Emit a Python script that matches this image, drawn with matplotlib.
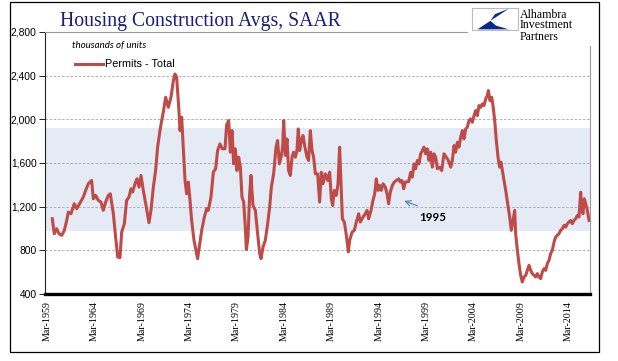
import numpy as np
import matplotlib
matplotlib.use("Agg")
import matplotlib.pyplot as plt
from matplotlib.patches import Rectangle, Polygon

# permits, thousands of units (SAAR); x in decimal years
years = [
    1959.77, 1959.98, 1960.23, 1960.48, 1960.76, 1961.04, 1961.29, 1961.46, 1961.74, 1962.09,
    1962.34, 1962.69, 1963.04, 1963.29, 1963.57, 1963.92, 1964.10, 1964.34, 1964.63, 1964.91,
    1965.15, 1965.40, 1965.68, 1965.89, 1966.21, 1966.45, 1966.67, 1966.91, 1967.09, 1967.37,
    1967.61, 1967.86, 1968.07, 1968.25, 1968.49, 1968.70, 1968.92, 1969.13, 1969.37, 1969.72,
    1969.97, 1970.18, 1970.43, 1970.67, 1970.88, 1971.13, 1971.31, 1971.48, 1971.73, 1972.01,
    1972.29, 1972.54, 1972.71, 1972.89, 1972.99, 1973.13, 1973.24, 1973.42, 1973.59, 1973.77,
    1973.94, 1974.12, 1974.30, 1974.47, 1974.72, 1974.93, 1975.10, 1975.28, 1975.53, 1975.81,
    1976.05, 1976.23, 1976.51, 1976.76, 1977.00, 1977.21, 1977.46, 1977.71, 1977.99, 1978.16,
    1978.38, 1978.55, 1978.73, 1978.90, 1979.08, 1979.25, 1979.43, 1979.61, 1979.78, 1979.96,
    1980.13, 1980.24, 1980.42, 1980.59, 1980.73, 1980.94, 1981.19, 1981.43, 1981.65, 1981.79,
    1982.00, 1982.24, 1982.49, 1982.70, 1982.88, 1983.12, 1983.37, 1983.54, 1983.72, 1983.90,
    1984.07, 1984.18, 1984.35, 1984.53, 1984.70, 1984.88, 1985.06, 1985.23, 1985.41, 1985.58,
    1985.72, 1985.87, 1986.04, 1986.22, 1986.39, 1986.64, 1986.81, 1986.99, 1987.17, 1987.34,
    1987.52, 1987.76, 1987.97, 1988.15, 1988.33, 1988.57, 1988.82, 1989.03, 1989.21, 1989.35,
    1989.52, 1989.73, 1989.91, 1990.08, 1990.23, 1990.37, 1990.58, 1990.79, 1991.00, 1991.14,
    1991.39, 1991.63, 1991.84, 1992.09, 1992.26, 1992.55, 1992.79, 1992.97, 1993.14, 1993.39,
    1993.60, 1993.78, 1993.95, 1994.13, 1994.30, 1994.48, 1994.66, 1994.90, 1995.08, 1995.25,
    1995.43, 1995.64, 1995.85, 1996.06, 1996.31, 1996.48, 1996.66, 1996.84, 1997.01, 1997.36,
    1997.58, 1997.75, 1997.93, 1998.10, 1998.28, 1998.45, 1998.63, 1998.81, 1998.98, 1999.16,
    1999.33, 1999.51, 1999.69, 1999.86, 2000.04, 2000.21, 2000.39, 2000.63, 2000.85, 2001.09,
    2001.34, 2001.55, 2001.80, 2001.97, 2002.15, 2002.32, 2002.50, 2002.67, 2002.85, 2003.03,
    2003.20, 2003.38, 2003.55, 2003.73, 2003.90, 2004.08, 2004.26, 2004.43, 2004.61, 2004.78,
    2004.96, 2005.14, 2005.31, 2005.49, 2005.66, 2005.77, 2005.94, 2006.12, 2006.26, 2006.44,
    2006.61, 2006.79, 2006.96, 2007.10, 2007.25, 2007.42, 2007.60, 2007.81, 2008.02, 2008.19,
    2008.37, 2008.55, 2008.65, 2008.83, 2009.00, 2009.18, 2009.35, 2009.53, 2009.71, 2009.88,
    2010.06, 2010.23, 2010.41, 2010.59, 2010.76, 2010.94, 2011.11, 2011.29, 2011.46, 2011.64,
    2011.82, 2011.99, 2012.17, 2012.34, 2012.52, 2012.70, 2012.87, 2013.05, 2013.22, 2013.40,
    2013.57, 2013.75, 2013.93, 2014.10, 2014.28, 2014.45, 2014.63, 2014.80, 2014.98, 2015.16,
    2015.33, 2015.51, 2015.61, 2015.75, 2015.89, 2016.04, 2016.21, 2016.39,
]
permits = [
    1089, 952, 998, 952, 937, 983, 1074, 1150, 1135, 1227,
    1181, 1233, 1288, 1349, 1410, 1440, 1272, 1303, 1257, 1242,
    1166, 1242, 1303, 1318, 1135, 922, 739, 733, 967, 1044,
    1257, 1288, 1364, 1334, 1410, 1455, 1379, 1486, 1349, 1181,
    1053, 1166, 1379, 1531, 1745, 1897, 1989, 2065, 2202, 2110,
    2202, 2354, 2415, 2385, 2263, 2080, 1897, 2019, 1745, 1440,
    1318, 1425, 1257, 1074, 891, 800, 724, 830, 983, 1105,
    1181, 1166, 1288, 1516, 1547, 1714, 1775, 1730, 1730, 1950,
    1989, 1699, 1897, 1592, 1730, 1531, 1653, 1562, 1288, 1242,
    1013, 806, 922, 1318, 1486, 1211, 1166, 952, 769, 724,
    830, 891, 1044, 1196, 1379, 1501, 1745, 1806, 1592, 1653,
    1745, 1989, 1669, 1821, 1531, 1486, 1653, 1699, 1653, 1714,
    1912, 1714, 1806, 1851, 1760, 1653, 1623, 1897, 1714, 1653,
    1501, 1501, 1242, 1516, 1410, 1501, 1440, 1516, 1272, 1211,
    1349, 1303, 1410, 1745, 1410, 1089, 1059, 937, 785, 891,
    967, 983, 1059, 1135, 1059, 1105, 1135, 1166, 1089, 1166,
    1257, 1318, 1455, 1349, 1394, 1349, 1410, 1379, 1318, 1227,
    1334, 1394, 1425, 1440, 1455, 1425, 1440, 1364, 1425, 1430,
    1516, 1470, 1592, 1547, 1623, 1592, 1684, 1714, 1745, 1684,
    1730, 1623, 1699, 1562, 1684, 1653, 1547, 1562, 1531, 1684,
    1653, 1623, 1562, 1623, 1760, 1699, 1790, 1745, 1836, 1897,
    1821, 1912, 1928, 1989, 2004, 1973, 2034, 2080, 2034, 2126,
    2110, 2141, 2126, 2187, 2217, 2263, 2171, 2202, 2126, 1989,
    1806, 1653, 1562, 1608, 1531, 1440, 1349, 1227, 1105, 983,
    1074, 1166, 952, 800, 678, 571, 510, 556, 571, 617,
    663, 617, 587, 571, 556, 587, 556, 541, 602, 632,
    617, 678, 709, 770, 800, 876, 922, 937, 952, 983,
    998, 1028, 1013, 1044, 1059, 1074, 1044, 1074, 1089, 1120,
    1105, 1333, 1196, 1135, 1272, 1227, 1166, 1074,
]

tick_years = [1959, 1964, 1969, 1974, 1979, 1984, 1989, 1994, 1999, 2004, 2009, 2014]
tick_labels = ["Mar-%d" % y for y in tick_years]
yticks = [400, 800, 1200, 1600, 2000, 2400, 2800]
band = (980, 1920)

RED = "#BE4B48"
NAVY = "#1c1c80"

fig = plt.figure(figsize=(6.18, 3.61), dpi=100)
ax = fig.add_axes([0.0728, 0.1856, 0.8814, 0.7258])

ax.axhspan(band[0], band[1], color="#E5EBF5", lw=0, zorder=0)
for v in yticks[1:-1]:
    ax.axhline(v, color="#a6a6a6", lw=0.6, ls=(0, (3, 2)), zorder=1)

ax.plot(years, permits, color=RED, lw=2.2, zorder=3, solid_joinstyle="round")

ax.set_xlim(1959.0, 2016.46)
ax.set_ylim(400, 2800)
ax.set_yticks(yticks)
ax.set_yticklabels(["{:,}".format(v) for v in yticks], fontsize=7.4,
                   family="Liberation Sans")
ax.set_xticks([y + 0.22 for y in tick_years])
ax.set_xticklabels(tick_labels, rotation=90, fontsize=7.2, family="Liberation Serif")
ax.tick_params(axis="x", length=0, pad=5)
ax.tick_params(axis="y", length=4, width=0.6, pad=2)

ax.spines["bottom"].set_linewidth(2.4)
ax.spines["bottom"].set_color("black")
ax.spines["left"].set_linewidth(0.8)
ax.spines["left"].set_color("#222222")
for s in ["top", "right"]:
    ax.spines[s].set_color("#9a9a9a")
    ax.spines[s].set_linewidth(0.8)

ax.text(0.0496, 0.950, "thousands of units", transform=ax.transAxes, fontsize=7,
        style="italic", family="Lato", va="center", ha="left")
ax.plot([0.055, 0.1065], [0.877, 0.877], transform=ax.transAxes, color=RED, lw=2.2)
ax.text(0.110, 0.877, "Permits - Total", transform=ax.transAxes, fontsize=7.8,
        family="Liberation Sans", va="center", ha="left")

ax.annotate("", xy=(1996.63, 1262), xytext=(1998.56, 1198),
            arrowprops=dict(arrowstyle="->", color="#4F81BD", lw=0.8))
ax.text(1999.93, 1098, "1995", fontsize=8.3, fontweight="bold", family="Lato",
        ha="center", va="center")

# title
fig.text(60 / 618, 1 - 26 / 361, "Housing Construction Avgs, SAAR", fontsize=14.2,
         family="Liberation Serif", color=NAVY, ha="left", va="baseline")

# logo block (covers the frame like in the original)
fig.patches.append(Rectangle((468 / 618, 1 - 46 / 361), 124 / 618, 43 / 361,
                             transform=fig.transFigure, facecolor="white",
                             edgecolor="none", zorder=4))
lax = fig.add_axes([472 / 618, 1 - 30 / 361, 46 / 618, 22 / 361], zorder=5)
lax.set_xlim(0, 1)
lax.set_ylim(0, 1)
lax.set_xticks([])
lax.set_yticks([])
for s in lax.spines.values():
    s.set_color("#bbbbbb")
    s.set_linewidth(0.8)
lax.add_patch(Polygon([(0.80, 0.97), (0.12, 0.03), (0.80, 0.03), (0.52, 0.2),
                       (0.40, 0.42), (0.50, 0.72)], closed=True,
                      facecolor="#0a2a8a", edgecolor="none"))
for txt, yb in [("Alhambra", 17.5), ("Investment", 28.5), ("Partners", 39.5)]:
    fig.text(520 / 618, 1 - yb / 361, txt, fontsize=8.6, family="Liberation Serif",
             ha="left", va="baseline", zorder=6)

# outer frame
fig.patches.append(Rectangle((10 / 618, 1 - 352 / 361), 589 / 618, 350 / 361,
                             transform=fig.transFigure, facecolor="none",
                             edgecolor="black", lw=0.9, zorder=7))

fig.savefig("out.png", dpi=100)
